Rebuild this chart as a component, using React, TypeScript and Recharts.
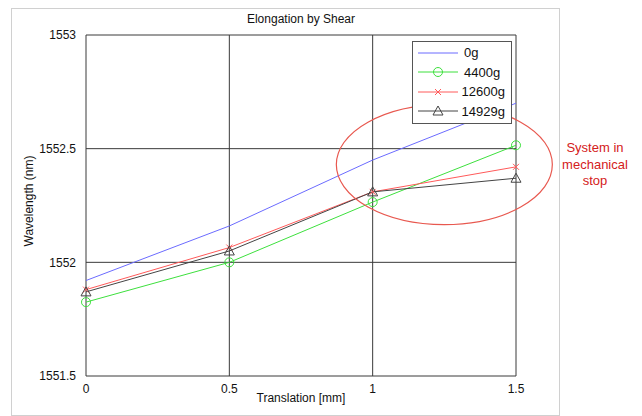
import React from 'react';
import {
  LineChart,
  Line,
  XAxis,
  YAxis,
  CartesianGrid,
  ReferenceDot,
} from 'recharts';

const translation = [0, 0.5, 1, 1.5];
const load0g = [1551.92, 1552.16, 1552.45, 1552.7];
const load4400g = [1551.825, 1552.0, 1552.265, 1552.515];
const load12600g = [1551.88, 1552.065, 1552.31, 1552.42];
const load14929g = [1551.87, 1552.05, 1552.31, 1552.37];

const xTicks = [0, 0.5, 1, 1.5];
const yTicks = [1551.5, 1552, 1552.5, 1553];

const data = translation.map((t, i) => ({
  t,
  g0: load0g[i],
  g4400: load4400g[i],
  g12600: load12600g[i],
  g14929: load14929g[i],
}));

const FONT = '"Liberation Sans", Arial, sans-serif';

const series = [
  { key: 'g0', name: '0g', color: '#6b6bff', marker: 'none' },
  { key: 'g4400', name: '4400g', color: '#3de03d', marker: 'circle' },
  { key: 'g12600', name: '12600g', color: '#ff5a5a', marker: 'cross' },
  { key: 'g14929', name: '14929g', color: '#444444', marker: 'triangle' },
];

function Marker({ type, cx, cy, color }: { type: string; cx: number; cy: number; color: string }) {
  if (type === 'circle') {
    return <circle cx={cx} cy={cy} r={4.5} fill="none" stroke={color} strokeWidth={1} />;
  }
  if (type === 'cross') {
    return (
      <path
        d={`M${cx - 3},${cy - 3}L${cx + 3},${cy + 3}M${cx - 3},${cy + 3}L${cx + 3},${cy - 3}`}
        stroke={color}
        strokeWidth={1}
      />
    );
  }
  if (type === 'triangle') {
    return (
      <path
        d={`M${cx},${cy - 5}L${cx + 5},${cy + 4}L${cx - 5},${cy + 4}Z`}
        fill="none"
        stroke={color}
        strokeWidth={1}
      />
    );
  }
  return null;
}

const makeDot = (type: string, color: string) => (props: any) => {
  if (type === 'none') return <g key={props.index} />;
  return (
    <g key={props.index}>
      <Marker type={type} cx={props.cx} cy={props.cy} color={color} />
    </g>
  );
};

// legend box kept outside the chart so it does not eat into the plot area
const LegendBox = () => (
  <div
    style={{
      position: 'absolute',
      left: 412,
      top: 41,
      border: '1px solid #555',
      background: '#fff',
      padding: '1px 6px 2px 5px',
      fontFamily: FONT,
      fontSize: 13,
      color: '#111',
      width: 87,
    }}
  >
    {series.map((s) => (
      <div key={s.key} style={{ display: 'flex', alignItems: 'center', height: 19.5 }}>
        <svg width={42} height={12} style={{ marginRight: 4 }}>
          <line x1={0} y1={6} x2={40} y2={6} stroke={s.color} strokeWidth={1} />
          <Marker type={s.marker} cx={20} cy={6} color={s.color} />
        </svg>
        <span>{s.name}</span>
      </div>
    ))}
  </div>
);

const EllipseShape = (props: any) => (
  <ellipse cx={props.cx} cy={props.cy} rx={108} ry={60} fill="none" stroke="#e8584f" strokeWidth={1.2} />
);

export default function App() {
  return (
    <div style={{ position: 'absolute', left: 0, top: 0, width: 642, height: 416, background: '#fff' }}>
      <div
        style={{
          position: 'absolute',
          left: 11,
          top: 8,
          width: 547,
          height: 406,
          border: '1px solid #d0d0d0',
        }}
      />
      <div
        style={{
          position: 'absolute',
          left: 86,
          width: 430,
          top: 12,
          textAlign: 'center',
          fontFamily: FONT,
          fontSize: 12,
          color: '#111',
        }}
      >
        Elongation by Shear
      </div>
      <div
        style={{
          position: 'absolute',
          left: 86,
          width: 430,
          top: 391,
          textAlign: 'center',
          fontFamily: FONT,
          fontSize: 12,
          color: '#111',
        }}
      >
        Translation [mm]
      </div>
      <div
        style={{
          position: 'absolute',
          left: 29,
          top: 201,
          transform: 'translate(-50%, -50%) rotate(-90deg)',
          whiteSpace: 'nowrap',
          fontFamily: FONT,
          fontSize: 12,
          color: '#111',
        }}
      >
        Wavelength (nm)
      </div>
      <div
        style={{
          position: 'absolute',
          left: 554,
          width: 82,
          top: 140,
          textAlign: 'center',
          fontFamily: FONT,
          fontSize: 13,
          lineHeight: '16.5px',
          color: '#d42020',
        }}
      >
        System in
        <br />
        mechanical
        <br />
        stop
      </div>
      <div style={{ position: 'absolute', left: 0, top: 0 }}>
        <LineChart
          width={642}
          height={416}
          data={data}
          margin={{ top: 35, right: 126, bottom: 0, left: 0 }}
        >
          <CartesianGrid stroke="#3a3a3a" strokeWidth={1} />
          <XAxis
            dataKey="t"
            type="number"
            domain={[0, 1.5]}
            ticks={xTicks}
            tickFormatter={(v) => String(v)}
            axisLine={false}
            tickLine={false}
            height={40}
            tick={{ fontFamily: FONT, fontSize: 12, fill: '#111' }}
            tickMargin={2}
          />
          <YAxis
            type="number"
            domain={[1551.5, 1553]}
            ticks={yTicks}
            tickFormatter={(v) => String(v)}
            axisLine={false}
            tickLine={false}
            width={86}
            tick={{ fontFamily: FONT, fontSize: 12, fill: '#111' }}
            tickMargin={4}
          />
          {series.map((s) => (
            <Line
              key={s.key}
              type="linear"
              dataKey={s.key}
              name={s.name}
              stroke={s.color}
              strokeWidth={1}
              dot={makeDot(s.marker, s.color)}
              activeDot={false}
              isAnimationActive={false}
            />
          ))}
          <ReferenceDot x={1.25} y={1552.43} ifOverflow="visible" shape={EllipseShape} />
        </LineChart>
      </div>
      <LegendBox />
    </div>
  );
}
